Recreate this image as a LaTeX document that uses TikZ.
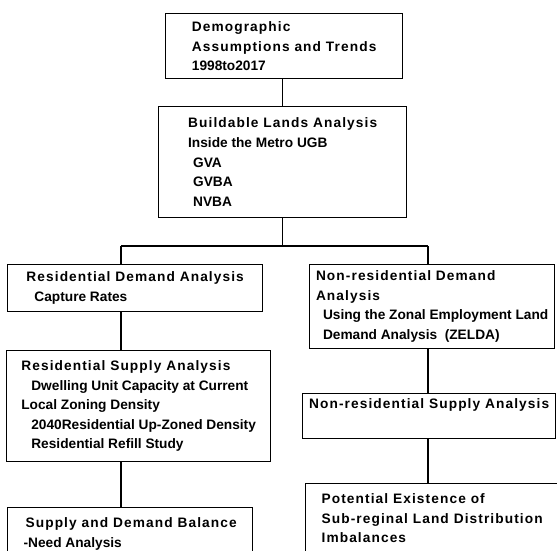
\documentclass[tikz,border=0pt]{standalone}
\usepackage{fontspec}
\setmainfont{Liberation Sans}
\newfontfamily\headfont{Liberation Sans}[LetterSpace=8]
\usepackage{tikz}

\begin{document}
\begin{tikzpicture}[
  x=1pt, y=-1pt,
  box/.style={draw, line width=1.3pt, anchor=north west, align=left, inner xsep=4pt, inner ysep=4pt,
    font=\fontsize{13.7}{19.6}\selectfont\bfseries},
  link/.style={line width=1.3pt}
]
\useasboundingbox (0,0) rectangle (557,551);
\clip (0,0) rectangle (557,551);

\node[box, minimum width=237, minimum height=65] (demo) at (165,13) {{\headfont Demographic}\\
{\headfont Assumptions and Trends}\\1998to2017};

\node[box, minimum width=248, minimum height=111] (build) at (158,106) {{\headfont Buildable Lands Analysis}\\
Inside the Metro UGB\\\hspace*{5pt}GVA\\\hspace*{5pt}GVBA\\\hspace*{5pt}NVBA};

\node[box, minimum width=255, minimum height=47] (resdem) at (7,264) {{\headfont Residential Demand Analysis}\\
\hspace*{8pt}Capture Rates};

\node[box, minimum width=264, minimum height=111] (resup) at (6,350) {{\headfont Residential Supply Analysis}\\
\hspace*{10pt}Dwelling Unit Capacity at Current\\Local Zoning Density\\
\hspace*{10pt}2040Residential Up-Zoned Density\\\hspace*{10pt}Residential Refill Study};

\node[box, minimum width=245, inner ysep=10pt] (balance) at (7,507) {\hspace*{2pt}{\headfont Supply and Demand Balance}\\
-Need Analysis};

\node[box, minimum width=245, minimum height=84] (nonresdem) at (309,264) {{\headfont Non-residential Demand}\\
{\headfont Analysis}\\\hspace*{7pt}Using the Zonal Employment Land\\\hspace*{7pt}Demand Analysis\ \ (ZELDA)};

\node[box, minimum width=253, minimum height=45, text depth=25pt] (nonressup) at (302,393) {{\headfont Non-residential Supply Analysis}};

\node[box, minimum width=253, inner ysep=10pt] (imbal) at (305,483) {{\headfont Potential Existence of}\\
{\headfont Sub-reginal Land Distribution}\\{\headfont Imbalances}};

\coordinate (jl) at (121,246);
\coordinate (jr) at (428,246);

\draw[link] (demo.south -| build.north) -- (build.north);
\draw[link] (build.south) -- (build.south |- jl);
\draw[link] (jl) -- (jr);
\draw[link] (jl) -- (jl |- resdem.north);
\draw[link] (jr) -- (jr |- nonresdem.north);
\draw[link] (resdem.south -| jl) -- (resup.north -| jl);
\draw[link] (resup.south -| jl) -- (balance.north -| jl);
\draw[link] (nonresdem.south -| jr) -- (nonressup.north -| jr);
\draw[link] (nonressup.south -| jr) -- (imbal.north -| jr);
\end{tikzpicture}
\end{document}
